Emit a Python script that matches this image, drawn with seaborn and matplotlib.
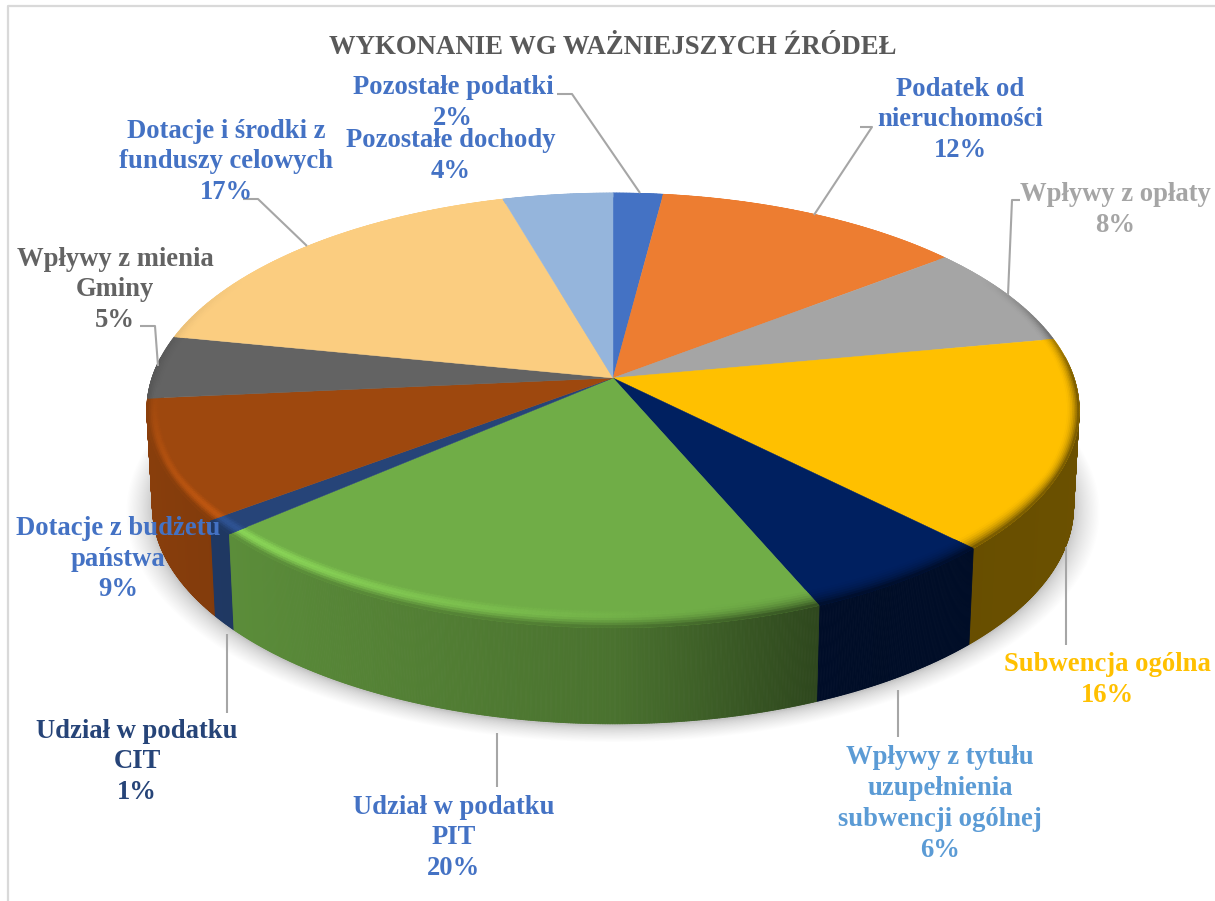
import numpy as np
import seaborn as sns
import matplotlib.pyplot as plt
from matplotlib.collections import PolyCollection

title = 'WYKONANIE WG WAŻNIEJSZYCH ŹRÓDEŁ'
names = ['Pozostałe podatki', 'Podatek od\nnieruchomości', 'Wpływy z opłaty', 'Subwencja ogólna',
         'Wpływy z tytułu\nuzupełnienia\nsubwencji ogólnej', 'Udział w podatku\nPIT', 'Udział w podatku\nCIT',
         'Dotacje z budżetu\npaństwa', 'Wpływy z mienia\nGminy', 'Dotacje i środki z\nfunduszy celowych',
         'Pozostałe dochody']
shares = [2.0, 12.4, 7.6, 15.7, 6.0, 19.8, 1.1, 8.9, 4.7, 17.4, 4.4]
slice_colors = ['#4472c4', '#ed7d31', '#a5a5a5', '#ffc000', '#002060', '#70ad47',
                '#264478', '#9e480e', '#636363', '#fbcd80', '#95b5dc']
label_colors = ['#4472c4', '#4472c4', '#a5a5a5', '#ffc000', '#5b9bd5', '#4472c4',
                '#264478', '#4472c4', '#636363', '#4472c4', '#4472c4']

# layout, in picture pixels
label_pos = [(453, 103), (960, 120), (1115, 210), (1107, 680), (940, 804), (454, 838),
             (137, 762), (118, 559), (115, 290), (226, 162), (451, 156)]
leaders = [[(557, 94), (572, 94), (640, 193)], [(860, 127), (872, 127), (814, 215)],
           [(1020, 200), (1012, 200), (1008, 295)], [(1066, 547), (1066, 645)],
           [(898, 690), (898, 737)], [(497, 733), (497, 787)], [(227, 634), (227, 713)],
           [(140, 326), (155, 326), (158, 366)], [(243, 199), (258, 199), (307, 246)]]
CX, CY = 613, 378
RX, RY, P = 461, 212.6, 0.149
DEPTH = 96


def project(r, theta, drop=0.0):
    u, v = r * np.sin(theta), r * np.cos(theta)
    w = 1 + P * v
    scale = 1 - 0.012 * (drop > 0)
    return CX + scale * RX * u / w, CY + drop - RY * v / w


def side_factor(u):
    return np.interp(u, [-1, -0.77, 0, 0.37, 0.5, 1], [0.87, 0.82, 0.66, 0.42, 0.4, 0.42])


def rim_width(t):
    # rim looks thin at the sides and wider at the front
    return max(0.028, 0.065 * -np.cos(t))


sns.set_theme(style='white')
plt.rcParams['font.family'] = ['Liberation Serif', 'DejaVu Serif']
palette = sns.color_palette(slice_colors)

fig, ax = plt.subplots(figsize=(12.15, 9.01), dpi=100)
ax.set_position([0, 0, 1, 1])
ax.set_xlim(0, 1215)
ax.set_ylim(901, 0)
ax.axis('off')

# chart frame
ax.plot([8, 8, 1215], [901, 6, 6], color='#d9d9d9', lw=1.6, zorder=1)

# soft shadow under the disc, denser close to the wall
ring = np.linspace(0, 2 * np.pi, 361)
for k in np.linspace(1, 0, 30):
    sx, sy = project(1 + 0.055 * k ** 1.5, ring, DEPTH + 2)
    ax.fill(sx, sy, color='black', alpha=0.009, lw=0, zorder=2)

edges = np.cumsum([0] + shares) / sum(shares) * 2 * np.pi
walls = []
for i, base in enumerate(palette):
    steps = np.linspace(edges[i], edges[i + 1], max(int(shares[i] * 20), 6))
    for t0, t1 in zip(steps[:-1], steps[1:]):
        tm = (t0 + t1) / 2
        if np.cos(tm) < 0.1:
            x0, y0 = project(1, t0)
            x1, y1 = project(1, t1)
            x2, y2 = project(1, t1, DEPTH)
            x3, y3 = project(1, t0, DEPTH)
            walls.append((np.cos(tm), [(x0, y0), (x1, y1), (x2, y2), (x3, y3)],
                          np.array(base) * side_factor(np.sin(tm))))
# back to front, the nearer wall hides the farther one
walls.sort(key=lambda w: -w[0])
wall_cols = [w[2] for w in walls]
ax.add_collection(PolyCollection([w[1] for w in walls], facecolors=wall_cols, edgecolors=wall_cols,
                                 linewidths=0.6, zorder=3))

polys, cols = [], []
for i, base in enumerate(palette):
    base = np.array(base)
    steps = np.linspace(edges[i], edges[i + 1], max(int(shares[i] * 8), 4))
    xs, ys = project(1.0, steps)
    ax.fill(np.r_[CX, xs], np.r_[CY, ys], color=base, lw=0.3, zorder=4)
    # rounded rim
    levels = np.linspace(0, 1, 9)
    for t0, t1 in zip(steps[:-1], steps[1:]):
        tm = (t0 + t1) / 2
        u, v = np.sin(tm), np.cos(tm)
        strength = np.clip((0.5 - v) / 0.5, 0, 1)
        glow = np.clip(-v * 1.6, 0, 1) * np.clip(0.35 - u, 0, 1)
        w0, w1 = rim_width(t0), rim_width(t1)
        for s0, s1 in zip(levels[:-1], levels[1:]):
            pts = [project(1 - w0 * (1 - s0), t0), project(1 - w1 * (1 - s0), t1),
                   project(1 - w1 * (1 - s1), t1), project(1 - w0 * (1 - s1), t0)]
            s = (s0 + s1) / 2
            c = base * (1 - strength * s ** 2 * (1 - side_factor(u)))
            polys.append(pts)
            cols.append(c * (1 + 0.28 * glow * np.sin(np.pi * s) ** 2))
cols = np.clip(cols, 0, 1)
ax.add_collection(PolyCollection(polys, facecolors=cols, edgecolors=cols, linewidths=0.5, zorder=5))

for pts in leaders:
    xs, ys = zip(*pts)
    ax.plot(xs, ys, color='#a6a6a6', lw=1.5, zorder=6, solid_capstyle='butt')

ax.text(613, 47, title, ha='center', va='center', fontsize=19.25, fontweight='bold', color='#595959', zorder=8)
for name, value, col, (x, y) in zip(names, shares, label_colors, label_pos):
    ax.text(x, y, f'{name}\n{value:.0f}%', ha='center', va='center', fontsize=19.2, fontweight='bold',
            color=col, linespacing=1.3, zorder=8)

fig.savefig('out.png', dpi=100)
